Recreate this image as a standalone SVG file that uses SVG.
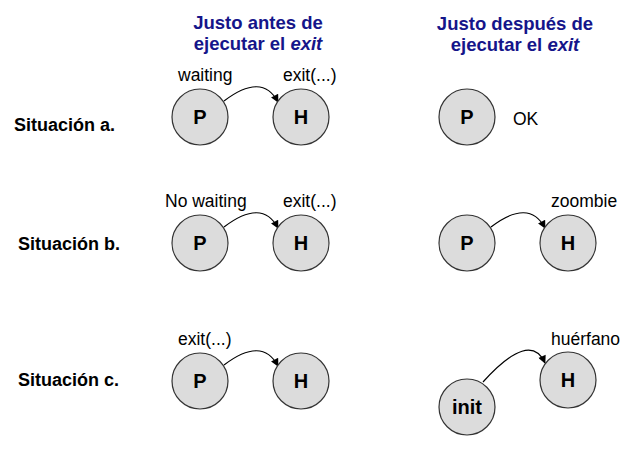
<svg xmlns="http://www.w3.org/2000/svg" width="638" height="457" viewBox="0 0 638 457">
<style>
.hd{font-family:"Liberation Sans",Arial,sans-serif;font-weight:bold;font-size:18.5px;fill:#15158a;text-anchor:middle}
.sit{font-family:"Liberation Sans",Arial,sans-serif;font-weight:bold;font-size:18px;fill:#000}
.lb{font-family:"Liberation Sans",Arial,sans-serif;font-size:17.5px;fill:#000}
.nd{fill:#dcdcdc;stroke:#333;stroke-width:1.2}
.nt{font-family:"Liberation Sans",Arial,sans-serif;font-weight:bold;font-size:20px;fill:#000;text-anchor:middle}
.cn{fill:none;stroke:#000;stroke-width:1.2;marker-end:url(#ah)}
</style>
<defs>
<marker id="ah" viewBox="0 0 10 10" refX="9" refY="5" markerWidth="9" markerHeight="8" orient="auto" markerUnits="userSpaceOnUse">
<path d="M0,0 L10,5 L0,10 z" fill="#000"/>
</marker>
</defs>
<rect width="638" height="457" fill="#fff"/>
<g id="headers">
<text class="hd" x="258" y="29">Justo antes de</text>
<text class="hd" x="258" y="50">ejecutar el <tspan font-style="italic">exit</tspan></text>
<text class="hd" x="515" y="30">Justo después de</text>
<text class="hd" x="515" y="51">ejecutar el <tspan font-style="italic">exit</tspan></text>
</g>
<g id="situations">
<text class="sit" x="14" y="131">Situación a.</text>
<text class="sit" x="18" y="250">Situación b.</text>
<text class="sit" x="18" y="386">Situación c.</text>
</g>
<g id="labels">
<text class="lb" x="178" y="81">waiting</text>
<text class="lb" x="283" y="81">exit(...)</text>
<text class="lb" x="513" y="125">OK</text>
<text class="lb" x="165" y="207">No waiting</text>
<text class="lb" x="283" y="207">exit(...)</text>
<text class="lb" x="551" y="207">zoombie</text>
<text class="lb" x="178" y="345">exit(...)</text>
<text class="lb" x="551" y="345">huérfano</text>
</g>
<g id="connectors">
<path class="cn" d="M224,101 Q262,72 278,102"/>
<path class="cn" d="M224,227 Q262,198 278,228"/>
<path class="cn" d="M491,227 Q529,198 545,228"/>
<path class="cn" d="M224,365 Q262,336 278,366"/>
<path class="cn" d="M483,382 Q530,330 545,363"/>
</g>
<g id="node-a-P"><circle class="nd" cx="200" cy="117" r="28"/><text class="nt" x="200" y="124">P</text></g>
<g id="node-a-H"><circle class="nd" cx="301" cy="117" r="28"/><text class="nt" x="301" y="124">H</text></g>
<g id="node-a-P2"><circle class="nd" cx="467" cy="117" r="28"/><text class="nt" x="467" y="124">P</text></g>
<g id="node-b-P"><circle class="nd" cx="200" cy="243" r="28"/><text class="nt" x="200" y="250">P</text></g>
<g id="node-b-H"><circle class="nd" cx="301" cy="243" r="28"/><text class="nt" x="301" y="250">H</text></g>
<g id="node-b-P2"><circle class="nd" cx="467" cy="243" r="28"/><text class="nt" x="467" y="250">P</text></g>
<g id="node-b-H2"><circle class="nd" cx="568" cy="243" r="28"/><text class="nt" x="568" y="250">H</text></g>
<g id="node-c-P"><circle class="nd" cx="200" cy="381" r="28"/><text class="nt" x="200" y="388">P</text></g>
<g id="node-c-H"><circle class="nd" cx="301" cy="381" r="28"/><text class="nt" x="301" y="388">H</text></g>
<g id="node-c-init"><circle class="nd" cx="467" cy="407" r="28"/><text class="nt" x="467" y="414">init</text></g>
<g id="node-c-H2"><circle class="nd" cx="568" cy="380" r="28"/><text class="nt" x="568" y="387">H</text></g>
</svg>
